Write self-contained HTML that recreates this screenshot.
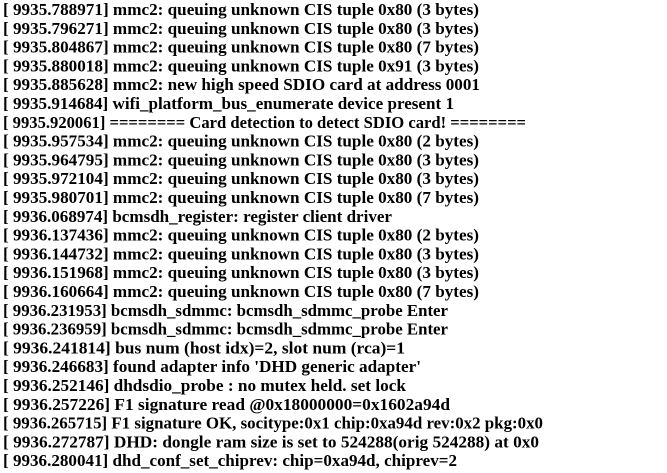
<!DOCTYPE html>
<html><head><meta charset="utf-8"><style>
html,body{margin:0;padding:0;background:#fff;width:667px;height:473px;overflow:hidden}
text{font-family:"Liberation Serif",serif;font-weight:bold;font-size:16.5px;fill:#000}
</style></head><body>
<svg width="667" height="473" xmlns="http://www.w3.org/2000/svg">
<text x="3" y="15" textLength="476" lengthAdjust="spacingAndGlyphs">[ 9935.788971] mmc2: queuing unknown CIS tuple 0x80 (3 bytes)</text>
<text x="3" y="33.8" textLength="476" lengthAdjust="spacingAndGlyphs">[ 9935.796271] mmc2: queuing unknown CIS tuple 0x80 (3 bytes)</text>
<text x="3" y="52.6" textLength="476" lengthAdjust="spacingAndGlyphs">[ 9935.804867] mmc2: queuing unknown CIS tuple 0x80 (7 bytes)</text>
<text x="3" y="71.4" textLength="476" lengthAdjust="spacingAndGlyphs">[ 9935.880018] mmc2: queuing unknown CIS tuple 0x91 (3 bytes)</text>
<text x="3" y="90.2" textLength="477" lengthAdjust="spacingAndGlyphs">[ 9935.885628] mmc2: new high speed SDIO card at address 0001</text>
<text x="3" y="109" textLength="451" lengthAdjust="spacingAndGlyphs">[ 9935.914684] wifi_platform_bus_enumerate device present 1</text>
<text x="3" y="127.8" textLength="523" lengthAdjust="spacingAndGlyphs">[ 9935.920061] ======== Card detection to detect SDIO card! ========</text>
<text x="3" y="146.6" textLength="476" lengthAdjust="spacingAndGlyphs">[ 9935.957534] mmc2: queuing unknown CIS tuple 0x80 (2 bytes)</text>
<text x="3" y="165.4" textLength="476" lengthAdjust="spacingAndGlyphs">[ 9935.964795] mmc2: queuing unknown CIS tuple 0x80 (3 bytes)</text>
<text x="3" y="184.2" textLength="476" lengthAdjust="spacingAndGlyphs">[ 9935.972104] mmc2: queuing unknown CIS tuple 0x80 (3 bytes)</text>
<text x="3" y="203" textLength="476" lengthAdjust="spacingAndGlyphs">[ 9935.980701] mmc2: queuing unknown CIS tuple 0x80 (7 bytes)</text>
<text x="3" y="221.8" textLength="389" lengthAdjust="spacingAndGlyphs">[ 9936.068974] bcmsdh_register: register client driver</text>
<text x="3" y="240.6" textLength="476" lengthAdjust="spacingAndGlyphs">[ 9936.137436] mmc2: queuing unknown CIS tuple 0x80 (2 bytes)</text>
<text x="3" y="259.4" textLength="476" lengthAdjust="spacingAndGlyphs">[ 9936.144732] mmc2: queuing unknown CIS tuple 0x80 (3 bytes)</text>
<text x="3" y="278.2" textLength="476" lengthAdjust="spacingAndGlyphs">[ 9936.151968] mmc2: queuing unknown CIS tuple 0x80 (3 bytes)</text>
<text x="3" y="297" textLength="476" lengthAdjust="spacingAndGlyphs">[ 9936.160664] mmc2: queuing unknown CIS tuple 0x80 (7 bytes)</text>
<text x="3" y="315.8" textLength="445" lengthAdjust="spacingAndGlyphs">[ 9936.231953] bcmsdh_sdmmc: bcmsdh_sdmmc_probe Enter</text>
<text x="3" y="334.6" textLength="445" lengthAdjust="spacingAndGlyphs">[ 9936.236959] bcmsdh_sdmmc: bcmsdh_sdmmc_probe Enter</text>
<text x="3" y="353.4" textLength="402" lengthAdjust="spacingAndGlyphs">[ 9936.241814] bus num (host idx)=2, slot num (rca)=1</text>
<text x="3" y="372.2" textLength="418" lengthAdjust="spacingAndGlyphs">[ 9936.246683] found adapter info 'DHD generic adapter'</text>
<text x="3" y="391" textLength="403" lengthAdjust="spacingAndGlyphs">[ 9936.252146] dhdsdio_probe : no mutex held. set lock</text>
<text x="3" y="409.8" textLength="447" lengthAdjust="spacingAndGlyphs">[ 9936.257226] F1 signature read @0x18000000=0x1602a94d</text>
<text x="3" y="428.6" textLength="540" lengthAdjust="spacingAndGlyphs">[ 9936.265715] F1 signature OK, socitype:0x1 chip:0xa94d rev:0x2 pkg:0x0</text>
<text x="3" y="447.4" textLength="536" lengthAdjust="spacingAndGlyphs">[ 9936.272787] DHD: dongle ram size is set to 524288(orig 524288) at 0x0</text>
<text x="3" y="466.2" textLength="454" lengthAdjust="spacingAndGlyphs">[ 9936.280041] dhd_conf_set_chiprev: chip=0xa94d, chiprev=2</text>
</svg>
</body></html>
